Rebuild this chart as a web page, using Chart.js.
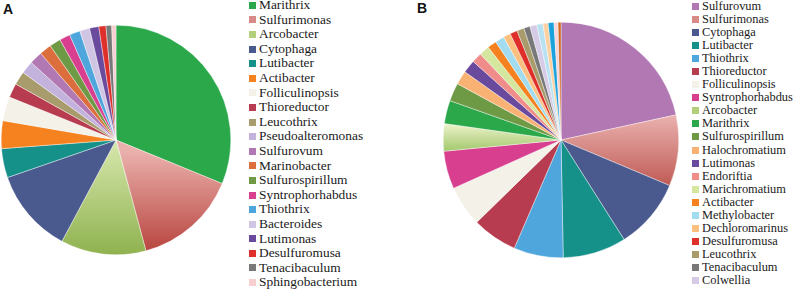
<!DOCTYPE html>
<html>
<head>
<meta charset="utf-8">
<script src="https://cdn.jsdelivr.net/npm/chart.js@4.4.1/dist/chart.umd.min.js"></script>
<style>
  body { margin: 0; background: #fff; }
  #wrap { position: relative; width: 800px; height: 290px; overflow: hidden; }
  canvas { position: absolute; }
  .tag { position: absolute; font-family: "Liberation Sans", Arial, sans-serif; font-weight: bold; font-size: 14px; color: #111; }
  .leg { position: absolute; font-family: "Liberation Serif", "DejaVu Serif", serif; color: #1a1a1a; white-space: nowrap; }
  .leg div { position: relative; padding-left: 10px; }
  .leg span { position: absolute; left: 0; width: 7px; height: 7px; }
</style>
</head>
<body>
<div id="wrap">
  <div class="tag" style="left:3px;top:1px;">A</div>
  <div class="tag" style="left:417px;top:0px;">B</div>
  <canvas id="pieA" width="230" height="230" style="left:1px;top:25px;"></canvas>
  <canvas id="pieB" width="236" height="236" style="left:443px;top:22px;"></canvas>
  <div class="leg" id="legA" style="left:249px;top:-2px;font-size:13.4px;"></div>
  <div class="leg" id="legB" style="left:692px;top:0px;font-size:12.4px;"></div>
</div>
<script>
// panel A
const genusA = ['Marithrix', 'Sulfurimonas', 'Arcobacter', 'Cytophaga', 'Lutibacter', 'Actibacter',
  'Folliculinopsis', 'Thioreductor', 'Leucothrix', 'Pseudoalteromonas', 'Sulfurovum', 'Marinobacter',
  'Sulfurospirillum', 'Syntrophorhabdus', 'Thiothrix', 'Bacteroides', 'Lutimonas', 'Desulfuromusa',
  'Tenacibaculum', 'Sphingobacterium'];
const shareA = [31.2, 14.6, 12.0, 11.9, 4.1, 3.9, 3.4, 2.0, 1.9, 1.8, 1.8, 1.7, 1.6, 1.5, 1.5, 1.4, 1.3, 1.0, 0.8, 0.6];

// panel B (last 5 slices have no legend entry in the figure)
const genusB = ['Sulfurovum', 'Sulfurimonas', 'Cytophaga', 'Lutibacter', 'Thiothrix', 'Thioreductor',
  'Folliculinopsis', 'Syntrophorhabdus', 'Arcobacter', 'Marithrix', 'Sulfurospirillum', 'Halochromatium',
  'Lutimonas', 'Endoriftia', 'Marichromatium', 'Actibacter', 'Methylobacter', 'Dechloromarinus',
  'Desulfuromusa', 'Leucothrix', 'Tenacibaculum', 'Colwellia',
  'Other 1', 'Other 2', 'Other 3', 'Other 4', 'Other 5'];
const shareB = [21.6, 9.75, 9.7, 8.7, 6.8, 6.2, 5.6, 5.2, 3.75, 3.2, 2.5, 1.9, 1.8,
  1.4, 1.4, 1.25, 1.25, 1.0, 1.0, 1.0, 0.85, 0.95, 0.85, 0.7, 0.8, 0.55, 0.4];
const shownB = 22;

const couleurs = {
  'Marithrix': '#2aa84a', 'Sulfurimonas': '#d88a86', 'Arcobacter': '#b3cf7c', 'Cytophaga': '#4a5a8f',
  'Lutibacter': '#16918a', 'Actibacter': '#f5821f', 'Folliculinopsis': '#f3f1e8', 'Thioreductor': '#b83c4f',
  'Leucothrix': '#a89c6d', 'Pseudoalteromonas': '#c3b2dc', 'Sulfurovum': '#b178b4', 'Marinobacter': '#dc6d3d',
  'Sulfurospirillum': '#6e9a45', 'Syntrophorhabdus': '#d8408f', 'Thiothrix': '#4fa6dc', 'Bacteroides': '#d0c6e4',
  'Lutimonas': '#6a4a9c', 'Desulfuromusa': '#df2f2a', 'Tenacibaculum': '#787878', 'Sphingobacterium': '#f7cfd0',
  'Halochromatium': '#f9b274', 'Endoriftia': '#f08c8a', 'Marichromatium': '#d5e69e', 'Methylobacter': '#a4dcef',
  'Dechloromarinus': '#fbbf7f', 'Colwellia': '#d6cbe6',
  'Other 1': '#b8e2f2', 'Other 2': '#fdd0a0', 'Other 3': '#1ba1dc', 'Other 4': '#f9d4d6', 'Other 5': '#d2691e'
};

// vertical gradient for a few slices, in fractions of the chart area
const degrades = {
  A: { 'Sulfurimonas': [0.55, 0.98, '#eab0ac', '#b94640'], 'Arcobacter': [0.5, 1.0, '#d8e8ae', '#8fb24f'] },
  B: { 'Sulfurimonas': [0.4, 0.75, '#e9b0ad', '#b84a44'], 'Arcobacter': [0.43, 0.57, '#eef3cc', '#94c05a'] }
};

function couleurSlice(noms, panel) {
  return function (ctx) {
    const nom = noms[ctx.dataIndex];
    const g = degrades[panel][nom];
    const area = ctx.chart.chartArea;
    if (!g || !area) return couleurs[nom];
    const y0 = area.top + area.height * g[0];
    const y1 = area.top + area.height * g[1];
    const grad = ctx.chart.ctx.createLinearGradient(0, y0, 0, y1);
    grad.addColorStop(0, g[2]);
    grad.addColorStop(1, g[3]);
    return grad;
  };
}

function plotarPizza(id, noms, valeurs, panel) {
  const config = {
    type: 'pie',
    data: {
      labels: noms,
      datasets: [{
        data: valeurs,
        backgroundColor: couleurSlice(noms, panel),
        borderColor: '#ffffff',
        borderWidth: 0.4
      }]
    },
    options: {
      responsive: false,
      animation: false,
      layout: { padding: 0 },
      plugins: { legend: { display: false }, tooltip: { enabled: false } }
    }
  };
  return new Chart(document.getElementById(id).getContext('2d'), config);
}

function legende(id, noms, combien, pasY) {
  const box = document.getElementById(id);
  for (let i = 0; i < combien; i++) {
    const ligne = document.createElement('div');
    ligne.style.height = pasY + 'px';
    ligne.style.lineHeight = pasY + 'px';
    const carre = document.createElement('span');
    carre.style.background = couleurs[noms[i]];
    carre.style.top = (pasY / 2 - 3.5) + 'px';
    ligne.appendChild(carre);
    ligne.appendChild(document.createTextNode(noms[i]));
    box.appendChild(ligne);
  }
}

plotarPizza('pieA', genusA, shareA, 'A');
plotarPizza('pieB', genusB, shareB, 'B');
legende('legA', genusA, genusA.length, 14.6);
legende('legB', genusB, shownB, 13.05);
</script>
</body>
</html>
